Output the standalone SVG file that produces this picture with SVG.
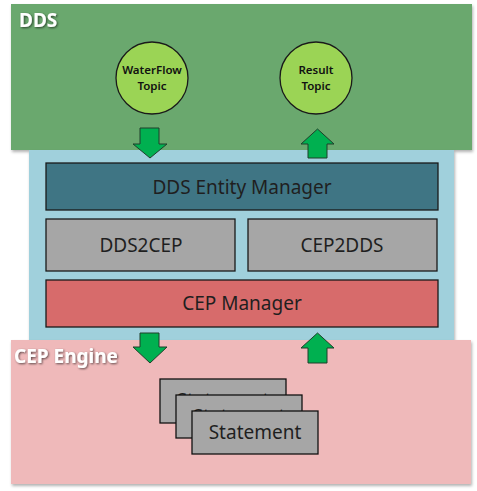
<svg xmlns="http://www.w3.org/2000/svg" width="477" height="491" viewBox="0 0 477 491">
<defs>
<filter id="sh" x="-5%" y="-5%" width="110%" height="115%">
<feDropShadow dx="1" dy="2" stdDeviation="1.5" flood-color="#000" flood-opacity="0.3"/>
</filter>
<filter id="ts" x="-10%" y="-20%" width="130%" height="150%">
<feDropShadow dx="1" dy="1" stdDeviation="0.8" flood-color="#000" flood-opacity="0.6"/>
</filter>
</defs>
<style>
text{font-family:"Noto Sans","DejaVu Sans",sans-serif;text-anchor:middle;dominant-baseline:central}
.lbl{fill:#fff;font-weight:bold;font-size:19px;text-anchor:start;filter:url(#ts)}
.box{stroke:#1a1a1a;stroke-width:1.3}
.mod{font-size:19px;fill:#1f1f1f}
.topic{fill:#9bd455;stroke:#1a1a1a;stroke-width:1.3}
.tt{font-size:11.5px;font-weight:600;fill:#111}
.arr{fill:#00b050;stroke:#1f3f2a;stroke-width:1}
.st{fill:#a6a6a6;stroke:#111;stroke-width:1.3}
.stt{font-size:19px;fill:#1f1f1f}
</style>
<g id="dds">
<rect x="11" y="4" width="461" height="146" fill="#6aa86e" filter="url(#sh)"/>
<text class="lbl" x="19" y="20">DDS</text>
</g>
<g id="middleware">
<rect x="29" y="150" width="425" height="190" fill="#a0d0dc" filter="url(#sh)"/>
</g>
<g id="cep-engine">
<rect x="11" y="340" width="460" height="144" fill="#efb9ba" filter="url(#sh)"/>
<text class="lbl" x="14" y="356">CEP Engine</text>
</g>
<g id="waterflow-topic">
<circle class="topic" cx="152" cy="78" r="36"/>
<text class="tt" x="152" y="69">WaterFlow</text>
<text class="tt" x="152" y="85">Topic</text>
</g>
<g id="result-topic">
<circle class="topic" cx="316" cy="78" r="36"/>
<text class="tt" x="316" y="69">Result</text>
<text class="tt" x="316" y="85">Topic</text>
</g>
<g id="dds-entity-manager">
<rect class="box" x="46" y="163" width="392" height="47" fill="#3f7584"/>
<text class="mod" x="242" y="187">DDS Entity Manager</text>
</g>
<g id="dds2cep">
<rect class="box" x="46" y="219" width="189" height="52" fill="#a6a6a6"/>
<text class="mod" x="141" y="245">DDS2CEP</text>
</g>
<g id="cep2dds">
<rect class="box" x="248" y="219" width="189" height="52" fill="#a6a6a6"/>
<text class="mod" x="342" y="245">CEP2DDS</text>
</g>
<g id="cep-manager">
<rect class="box" x="46" y="280" width="392" height="47" fill="#d76b6b"/>
<text class="mod" x="242" y="303">CEP Manager</text>
</g>
<g id="statements">
<rect class="st" x="160" y="379" width="126" height="44"/>
<text class="stt" x="223" y="400">Statement</text>
<rect class="st" x="176" y="395" width="126" height="43"/>
<text class="stt" x="239" y="416">Statement</text>
<rect class="st" x="192" y="411" width="126" height="43"/>
<text class="stt" x="255" y="432">Statement</text>
</g>
<g id="connectors">
<polygon class="arr" points="140,128 159,128 159,144 167,144 150,158 133,144 140,144"/>
<polygon class="arr" points="308,158 327,158 327,144 334,144 317.5,129 301,144 308,144"/>
<polygon class="arr" points="140,333 159,333 159,347 167,347 150,363 133,347 140,347"/>
<polygon class="arr" points="308,363 327,363 327,348 334,348 317.5,333 301,348 308,348"/>
</g>
</svg>
